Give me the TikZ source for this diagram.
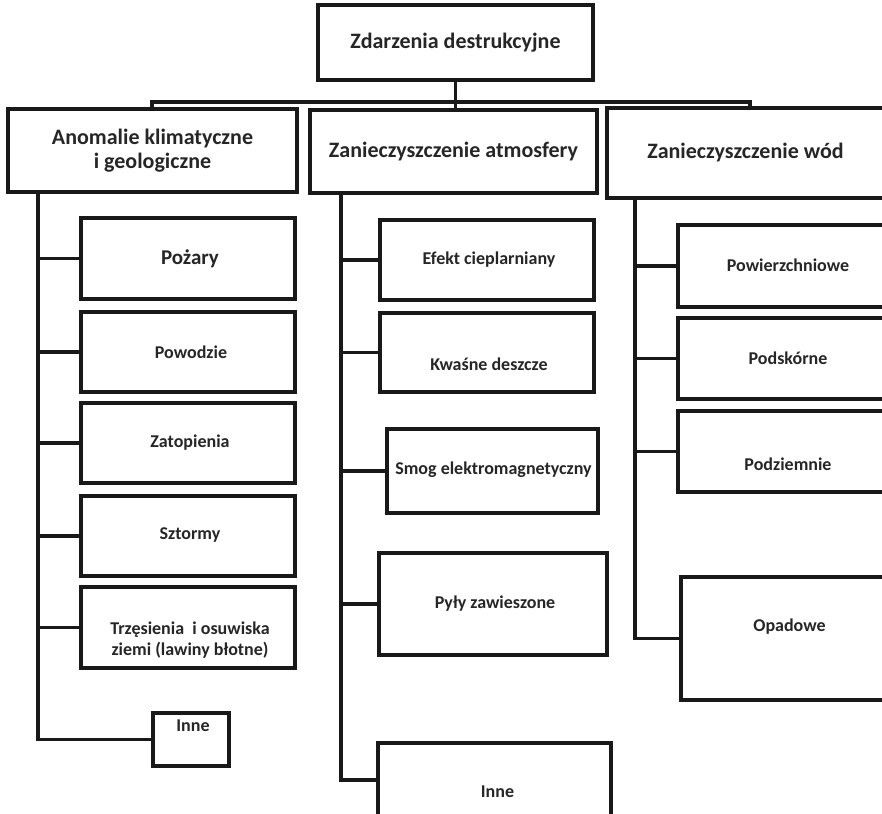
\documentclass[tikz,border=0pt]{standalone}
\usepackage{fontspec}
\setmainfont{Carlito}
\usetikzlibrary{calc}
% \orgbox{name}{x1}{y1}{x2}{y2}{text}{dx}{dy}: frame from corner to corner,
% text set at the centre shifted by (dx,dy) (dy measured downwards)
\newcommand\orgbox[9][kid]{%
  \node[#1, minimum width={(#5-#3)*1pt}, minimum height={(#6-#4)*1pt},
        label={[#1txt, xshift=#8pt, yshift=-#9pt]center:#7}]
       (#2) at ({(#3+#5)/2},{(#4+#6)/2}) {};}
\begin{document}
\begin{tikzpicture}[x=1pt, y=-1pt,
  frame/.style={draw=black!90, line width=3.6pt, inner sep=0pt, fill=white},
  head/.style={frame},
  headtxt/.style={align=center, font=\bfseries\fontsize{22}{24}\selectfont, text=black!85},
  kid/.style={frame},
  kidtxt/.style={align=center, font=\bfseries\fontsize{18}{21}\selectfont, text=black!85},
  big/.style={frame},
  bigtxt/.style={align=center, font=\bfseries\fontsize{21}{24}\selectfont, text=black!85},
  conn/.style={draw=black!90, line width=3.6pt}]
\useasboundingbox (0,0) rectangle (882,813);

% root and the three categories
\orgbox[head]{root}{318}{5}{593}{80}{Zdarzenia destrukcyjne}{0}{0}
\orgbox[head]{anom}{8}{109}{297}{192}{Anomalie klimatyczne\\i geologiczne}{0}{0}
\orgbox[head]{atm}{310}{110}{597}{193}{Zanieczyszczenie atmosfery}{0}{0}
\orgbox[head]{wod}{607}{108}{888}{198}{Zanieczyszczenie wód}{-2}{0}

% link from the root to the categories
\coordinate (barL) at (152,102);
\coordinate (barR) at (750,102);
\draw[conn] (root.south) -- (root.south |- atm.north);
\draw[conn] (barL |- anom.north) -- (barL) -- (barR) -- (barR |- wod.north);

% climatic and geological anomalies
\orgbox[big]{pozary}{81}{218}{295}{299}{Pożary}{2}{0}
\orgbox{powodzie}{81}{312}{295}{392}{Powodzie}{3}{0}
\orgbox{zatop}{81}{403}{295}{483}{Zatopienia}{2}{0}
\orgbox{sztormy}{81}{496}{295}{576}{Sztormy}{2}{-1}
\orgbox{trzes}{81}{587}{295}{668}{Trzęsienia\ \ i osuwiska\\ziemi (lawiny błotne)}{2}{13}
\orgbox{inneA}{153}{713}{229}{766}{Inne}{2}{-14}

% air pollution
\orgbox{efekt}{380}{220}{594}{300}{Efekt cieplarniany}{2}{0}
\orgbox{kwasne}{380}{313}{594}{392}{Kwaśne deszcze}{2}{12}
\orgbox{smog}{387}{429}{598}{513}{Smog elektromagnetyczny}{1}{-1}
\orgbox{pyly}{379}{553}{607}{655}{Pyły zawieszone}{2}{0}
\orgbox{inneB}{378}{743}{611}{817}{Inne}{3}{12}

% water pollution
\orgbox{powierz}{678}{225}{888}{307}{Powierzchniowe}{5}{-1}
\orgbox{podsk}{678}{318}{888}{399}{Podskórne}{5}{0}
\orgbox{podziem}{678}{411}{888}{492}{Podziemnie}{5}{13}
\orgbox{opad}{681}{577}{888}{700}{Opadowe}{5}{-12}

% trunks and branches
\coordinate (tA) at (38,0);
\coordinate (tB) at (341,0);
\coordinate (tC) at (635,0);
\draw[conn] (tA |- anom.south) |- (inneA.west);
\foreach \k in {pozary,powodzie,zatop,sztormy,trzes}
  \draw[conn] (tA |- \k.west) -- (\k.west);
\draw[conn] (tB |- atm.south) |- (inneB.west);
\foreach \k in {efekt,kwasne,smog,pyly}
  \draw[conn] (tB |- \k.west) -- (\k.west);
\draw[conn] (tC |- wod.south) |- (opad.west);
\foreach \k in {powierz,podsk,podziem}
  \draw[conn] (tC |- \k.west) -- (\k.west);
\end{tikzpicture}
\end{document}
